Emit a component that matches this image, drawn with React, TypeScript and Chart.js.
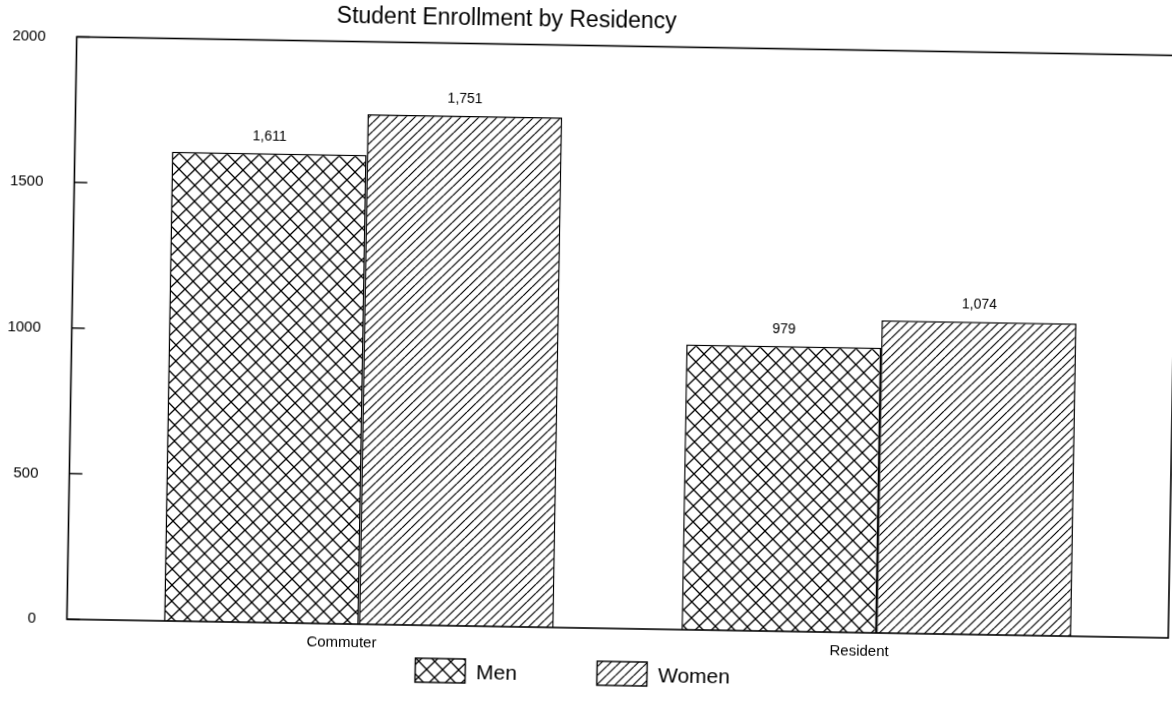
import React, { useEffect, useRef } from "react";
import { Chart, registerables } from "chart.js";

Chart.register(...registerables);

// ---- data ----
const categories = ["Commuter", "Resident"];
const seriesNames = ["Men", "Women"];
const menValues = [1611, 979];
const womenValues = [1751, 1074];
const yTickValues = [0, 500, 1000, 1500, 2000];
const chartTitle = "Student Enrollment by Residency";

const FONT = "'Liberation Sans', Arial, Helvetica, sans-serif";

function makeCrossHatch(): CanvasPattern | string {
  const s = 16;
  const c = document.createElement("canvas");
  c.width = s;
  c.height = s;
  const g = c.getContext("2d");
  if (!g) return "#fff";
  g.fillStyle = "#fff";
  g.fillRect(0, 0, s, s);
  g.strokeStyle = "#000";
  g.lineWidth = 1.3;
  g.beginPath();
  for (const k of [-1, 0, 1]) {
    g.moveTo(k * s, 0);
    g.lineTo(k * s + s, s);
    g.moveTo(k * s, s);
    g.lineTo(k * s + s, 0);
  }
  g.stroke();
  return g.createPattern(c, "repeat") || "#fff";
}

function makeDiagHatch(): CanvasPattern | string {
  const s = 9;
  const c = document.createElement("canvas");
  c.width = s;
  c.height = s;
  const g = c.getContext("2d");
  if (!g) return "#fff";
  g.fillStyle = "#fff";
  g.fillRect(0, 0, s, s);
  g.strokeStyle = "#000";
  g.lineWidth = 1.2;
  g.beginPath();
  for (const k of [-1, 0, 1]) {
    g.moveTo(k * s, s);
    g.lineTo(k * s + s, 0);
  }
  g.stroke();
  return g.createPattern(c, "repeat") || "#fff";
}

export default function App() {
  const canvasRef = useRef<HTMLCanvasElement | null>(null);

  useEffect(() => {
    const canvas = canvasRef.current;
    if (!canvas) return;
    const menPattern = makeCrossHatch();
    const womenPattern = makeDiagHatch();
    const patterns = [menPattern, womenPattern];

    const decorPlugin = {
      id: "decor",
      afterDatasetsDraw(chart: any) {
        const { ctx, chartArea } = chart;
        const { left, top, right, bottom } = chartArea;
        ctx.save();
        // frame
        ctx.strokeStyle = "#000";
        ctx.lineWidth = 1.6;
        ctx.strokeRect(left, top, right - left, bottom - top);
        // inner tick marks on y axis
        const ys = chart.scales.y;
        ctx.lineWidth = 1.4;
        ys.ticks.forEach((t: any) => {
          const py = ys.getPixelForValue(t.value);
          ctx.beginPath();
          ctx.moveTo(left, py);
          ctx.lineTo(left + 13, py);
          ctx.stroke();
        });
        // value labels
        ctx.fillStyle = "#000";
        ctx.font = `14px ${FONT}`;
        ctx.textAlign = "center";
        ctx.textBaseline = "alphabetic";
        chart.data.datasets.forEach((ds: any, di: number) => {
          const meta = chart.getDatasetMeta(di);
          meta.data.forEach((el: any, i: number) => {
            const v = ds.data[i].y as number;
            ctx.fillText(v.toLocaleString("en-US"), el.x, el.y - 13);
          });
        });
        // title
        ctx.font = `23px ${FONT}`;
        ctx.textBaseline = "middle";
        ctx.fillText(chartTitle, left + (right - left) * 0.39, top - 25);
        // legend
        ctx.font = `21px ${FONT}`;
        const boxW = 50;
        const boxH = 24;
        const gap = 11;
        const spacing = 80;
        const widths = seriesNames.map((n) => ctx.measureText(n).width);
        const total =
          widths.reduce((a, w) => a + boxW + gap + w, 0) + spacing * (seriesNames.length - 1);
        let x = 578 - total / 2;
        const cy = bottom + 45;
        ctx.textAlign = "left";
        seriesNames.forEach((n, i) => {
          ctx.fillStyle = patterns[i] as any;
          ctx.fillRect(x, cy - boxH / 2, boxW, boxH);
          ctx.lineWidth = 1.4;
          ctx.strokeStyle = "#000";
          ctx.strokeRect(x, cy - boxH / 2, boxW, boxH);
          ctx.fillStyle = "#000";
          ctx.fillText(n, x + boxW + gap, cy + 2);
          x += boxW + gap + widths[i] + spacing;
        });
        ctx.restore();
      },
    };

    Chart.defaults.color = "#000";
    Chart.defaults.font.family = FONT;

    const chart = new Chart(canvas, {
      type: "bar",
      data: {
        datasets: [
          {
            label: seriesNames[0],
            data: menValues.map((v, i) => ({ x: i, y: v })),
            backgroundColor: menPattern as any,
            borderColor: "#000",
            borderWidth: 1.5,
            categoryPercentage: 0.753,
            barPercentage: 1,
          },
          {
            label: seriesNames[1],
            data: womenValues.map((v, i) => ({ x: i, y: v })),
            backgroundColor: womenPattern as any,
            borderColor: "#000",
            borderWidth: 1.5,
            categoryPercentage: 0.753,
            barPercentage: 1,
          },
        ],
      },
      options: {
        animation: false,
        responsive: false,
        devicePixelRatio: 1,
        layout: { padding: { left: 7.5, right: 27, top: 45.5, bottom: 38 } },
        plugins: {
          legend: { display: false },
          title: { display: false },
          tooltip: { enabled: false },
        },
        scales: {
          x: {
            type: "linear",
            offset: false,
            bounds: "data",
            min: -0.564,
            max: 1.564,
            afterBuildTicks: (scale: any) => {
              scale.ticks = categories.map((_, i) => ({ value: i }));
            },
            ticks: {
              callback: (v: any) => categories[v as number] ?? "",
              font: { size: 15, family: FONT },
              color: "#000",
              padding: 9.5,
              labelOffset: -17,
              maxRotation: 0,
            },
            grid: { display: false, drawTicks: false, offset: false },
            border: { display: false },
          },
          y: {
            min: 0,
            max: 2000,
            afterBuildTicks: (scale: any) => {
              scale.ticks = yTickValues.map((v) => ({ value: v }));
            },
            afterFit: (scale: any) => {
              scale.width = 64;
            },
            ticks: {
              callback: (v: any) => String(v),
              font: { size: 15, family: FONT },
              color: "#000",
              padding: 31,
            },
            grid: { display: false, drawTicks: false },
            border: { display: false },
          },
        },
      },
      plugins: [decorPlugin],
    });

    return () => chart.destroy();
  }, []);

  return (
    <div
      style={{
        position: "fixed",
        left: 0,
        top: 0,
        width: 1172,
        height: 703,
        overflow: "hidden",
        background: "#fff",
      }}
    >
      <canvas
        ref={canvasRef}
        width={1200}
        height={703}
        style={{
          position: "absolute",
          left: 0,
          top: 0,
          width: 1200,
          height: 703,
          transformOrigin: "586px 351.5px",
          transform: "rotate(0.97deg)",
        }}
      />
    </div>
  );
}
